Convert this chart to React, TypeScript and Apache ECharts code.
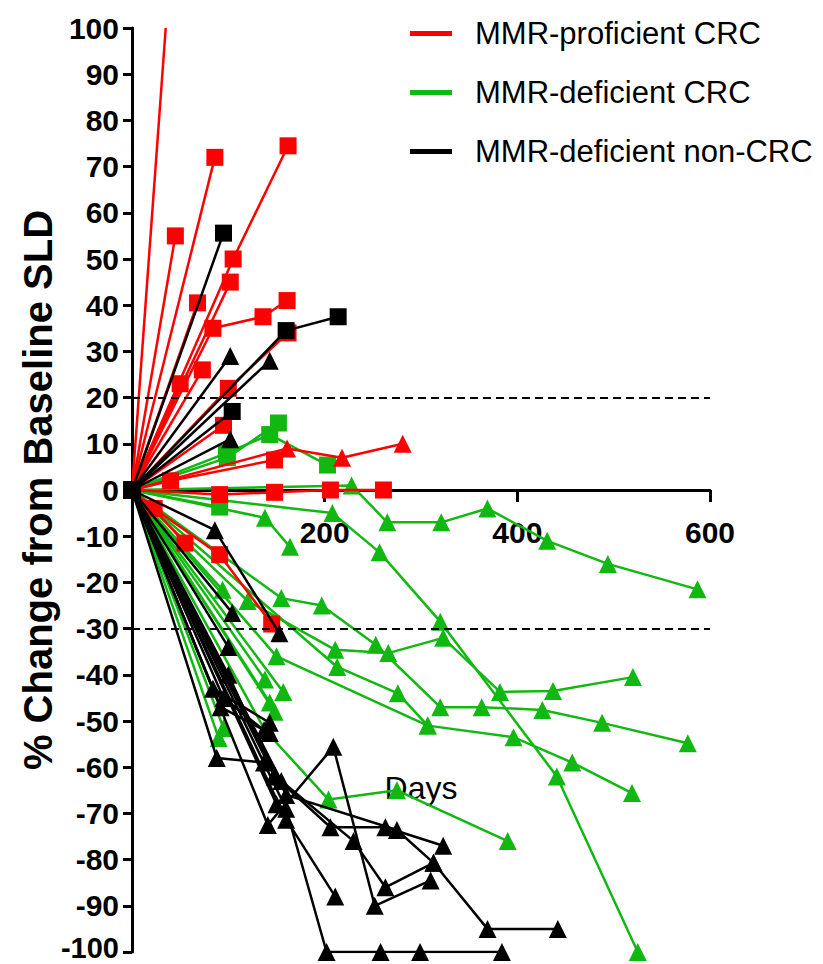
import React, { useEffect, useRef } from "react";
import * as echarts from "echarts";

type Pt = [number, number];

const legendNames = ["MMR-proficient CRC", "MMR-deficient CRC", "MMR-deficient non-CRC"];
const yAxisTitle = "% Change from Baseline SLD";
const xAxisTitle = "Days";
const yRange = { min: -100, max: 100, interval: 10 };
const xRange = { min: 0, max: 600, interval: 200 };
const thresholds = [20, -30];

// MMR-proficient CRC (red)
const proficientLines: Pt[][] = [
  [[0, 0], [35, 100]],
  [[0, 0], [45, 55]],
  [[0, 0], [86, 72]],
  [[0, 0], [105, 50], [162, 74.5]],
  [[0, 0], [102, 45]],
  [[0, 0], [68, 40.5]],
  [[0, 0], [84, 35], [136, 37.5], [161, 41]],
  [[0, 0], [50, 23]],
  [[0, 0], [73, 26]],
  [[0, 0], [100, 22], [162, 34]],
  [[0, 0], [95, 14]],
  [[0, 0], [91, -1], [148, -0.5], [206, 0], [261, 0]],
  [[0, 0], [40, 2], [148, 6.5]],
  [[0, 0], [161, 9], [218, 7], [281, 10]],
  [[0, 0], [22, -4], [55, -11.5]],
  [[0, 0], [23, -4], [91, -14], [145, -29]],
];
const proficientMarkers: string[] = [
  "none", "rect", "rect", "rect", "rect", "rect", "rect", "rect",
  "rect", "rect", "rect", "rect", "rect", "triangle", "rect", "rect",
];

// MMR-deficient CRC (green)
const deficientLines: Pt[][] = [
  [[0, 0], [98, 8], [143, 12], [203, 5.4]],
  [[0, 0], [99, 7], [152, 14.5]],
  [[0, 0], [91, -3.7]],
  [[0, 0], [228, 1], [265, -7], [321, -7], [369, -4], [431, -11], [494, -16], [587, -21.5]],
  [[0, 0], [208, -5], [257, -13.5], [320, -28.5], [441, -62], [525, -100]],
  [[0, 0], [138, -6], [164, -12.3]],
  [[0, 0], [155, -23.4], [197, -25], [253, -33.5], [320, -47], [363, -47], [426, -47.6], [488, -50.4], [577, -54.8]],
  [[0, 0], [120, -24], [211, -34.6], [266, -35.3], [323, -32], [382, -43.7], [437, -43.5], [520, -40.5]],
  [[0, 0], [213, -38.3], [276, -44], [307, -51]],
  [[0, 0], [150, -36], [307, -51], [396, -53.5], [457, -59], [519, -65.6]],
  [[0, 0], [138, -52], [204, -67], [275, -65], [390, -76]],
  [[0, 0], [138, -41]],
  [[0, 0], [157, -43.7]],
  [[0, 0], [143, -46]],
  [[0, 0], [90, -53.7]],
  [[0, 0], [95, -51.5]],
  [[0, 0], [148, -48]],
  [[0, 0], [94, -21.6]],
];
const deficientMarkers: string[] = [
  "rect", "rect", "rect", "triangle", "triangle", "triangle", "triangle", "triangle", "triangle",
  "triangle", "triangle", "triangle", "triangle", "triangle", "triangle", "triangle", "triangle", "triangle",
];

// MMR-deficient non-CRC (black)
const nonCrcLines: Pt[][] = [
  [[0, 0], [95, 55.6]],
  [[0, 0], [160, 34.5], [214, 37.5]],
  [[0, 0], [102, 29]],
  [[0, 0], [104, 17]],
  [[0, 0], [143, 28]],
  [[0, 0], [102, 11]],
  [[0, 0], [86, -8.7], [153, -31]],
  [[0, 0], [104, -26.6]],
  [[0, 0], [100, -34]],
  [[0, 0], [88, -58], [137, -59]],
  [[0, 0], [160, -69], [202, -100], [258, -100], [299, -100], [384, -100]],
  [[0, 0], [160, -66], [275, -73.6], [313, -80.7], [369, -95], [442, -95]],
  [[0, 0], [148, -62], [206, -73], [263, -73], [323, -77]],
  [[0, 0], [141, -72.5], [209, -55.6], [252, -90], [310, -84.5]],
  [[0, 0], [155, -63], [230, -76], [263, -86], [313, -80.7]],
  [[0, 0], [150, -68], [211, -88]],
  [[0, 0], [84, -43], [143, -50.4]],
  [[0, 0], [92, -47], [143, -52.6]],
  [[0, 0], [100, -40], [148, -61.7]],
  [[0, 0], [160, -71.4]],
  [[0, 0], [95, -45], [137, -52]],
];
const nonCrcMarkers: string[] = [
  "rect", "rect", "triangle", "rect", "triangle", "triangle", "triangle", "triangle", "triangle",
  "triangle", "triangle", "triangle", "triangle", "triangle", "triangle", "triangle", "triangle",
  "triangle", "triangle", "triangle", "triangle",
];

const RED = "#ff0000";
const GREEN = "#12b812";
const BLACK = "#000000";
const SANS = "'Liberation Sans', Arial, Helvetica, sans-serif";

const GRID = { left: 132, right: 113, top: 28, bottom: 12 };
const CHART_H = 964;

export default function App() {
  const ref = useRef<HTMLDivElement>(null);
  useEffect(() => {
    if (!ref.current) return;
    const chart = echarts.init(ref.current, null, { renderer: "svg" });
    const groups = [
      { name: legendNames[1], color: GREEN, lines: deficientLines, markers: deficientMarkers, z: 2 },
      { name: legendNames[0], color: RED, lines: proficientLines, markers: proficientMarkers, z: 3 },
      { name: legendNames[2], color: BLACK, lines: nonCrcLines, markers: nonCrcMarkers, z: 4 },
    ];
    const series: any[] = [];
    groups.forEach((g) => {
      g.lines.forEach((line, i) => {
        const m = g.markers[i];
        series.push({
          type: "line",
          name: g.name,
          data: line,
          z: g.z,
          symbol: m === "none" ? "none" : m,
          showSymbol: m !== "none",
          symbolSize: m === "rect" ? 17 : 18,
          lineStyle: { color: g.color, width: 2.5 },
          itemStyle: { color: g.color },
          color: g.color,
          emphasis: { disabled: true },
        });
      });
    });
    series.push({
      type: "line",
      name: "thresholds",
      data: [],
      markLine: {
        silent: true,
        symbol: "none",
        label: { show: false },
        lineStyle: { color: "#000", type: [8, 5], width: 2 },
        data: thresholds.map((t) => ({ yAxis: t })),
      },
    });

    // shift the x axis (line, ticks, labels, name) up to the y = 0 level
    const plotH = CHART_H - GRID.top - GRID.bottom;
    const zeroFrac = (yRange.max - 0) / (yRange.max - yRange.min);
    const xOffset = -(plotH - plotH * zeroFrac);

    chart.setOption({
      animation: false,
      backgroundColor: "#fff",
      grid: { ...GRID, containLabel: false, outerBoundsMode: "none" },
      legend: {
        data: legendNames,
        orient: "vertical",
        left: 405,
        top: 13,
        icon: "rect",
        itemWidth: 42,
        itemHeight: 5,
        itemGap: 28,
        textStyle: { fontSize: 31, fontFamily: SANS, color: "#000", padding: [0, 0, 0, 18] },
      },
      xAxis: {
        type: "value",
        min: xRange.min,
        max: xRange.max,
        interval: xRange.interval,
        offset: xOffset,
        name: xAxisTitle,
        nameLocation: "middle",
        nameGap: 282,
        nameMoveOverlap: false,
        nameTextStyle: { fontSize: 32, fontFamily: SANS, color: "#000", verticalAlign: "top" },
        axisLine: { onZero: false, lineStyle: { color: "#000", width: 3 } },
        axisTick: { show: true, length: 12, lineStyle: { color: "#000", width: 3 } },
        axisLabel: {
          formatter: (v: number) => (v === 0 ? "" : String(v)),
          margin: 27,
          fontSize: 30,
          fontWeight: "bold",
          fontFamily: SANS,
          color: "#000",
        },
        splitLine: { show: false },
      },
      yAxis: {
        type: "value",
        min: yRange.min,
        max: yRange.max,
        interval: yRange.interval,
        name: yAxisTitle,
        nameLocation: "middle",
        nameGap: 74,
        nameMoveOverlap: false,
        nameTextStyle: { fontSize: 40, fontWeight: "bold", fontFamily: SANS, color: "#000" },
        axisLine: { show: true, lineStyle: { color: "#000", width: 3 } },
        axisTick: { show: true, length: 9, lineStyle: { color: "#000", width: 3 } },
        axisLabel: {
          margin: 13,
          fontSize: 30,
          lineHeight: 22,
          fontWeight: "bold",
          fontFamily: SANS,
          color: "#000",
          formatter: (v: number) => (v === yRange.min ? `{low|${v}}` : String(v)),
          rich: {
            low: {
              fontSize: 29,
              lineHeight: 22,
              fontWeight: "bold",
              fontFamily: SANS,
              color: "#000",
              padding: [0, 0, 8, 0],
            },
          },
        },
        splitLine: { show: false },
      },
      series,
    });
    return () => chart.dispose();
  }, []);
  return <div ref={ref} style={{ position: "absolute", left: 0, top: 0, width: 823, height: CHART_H }} />;
}
